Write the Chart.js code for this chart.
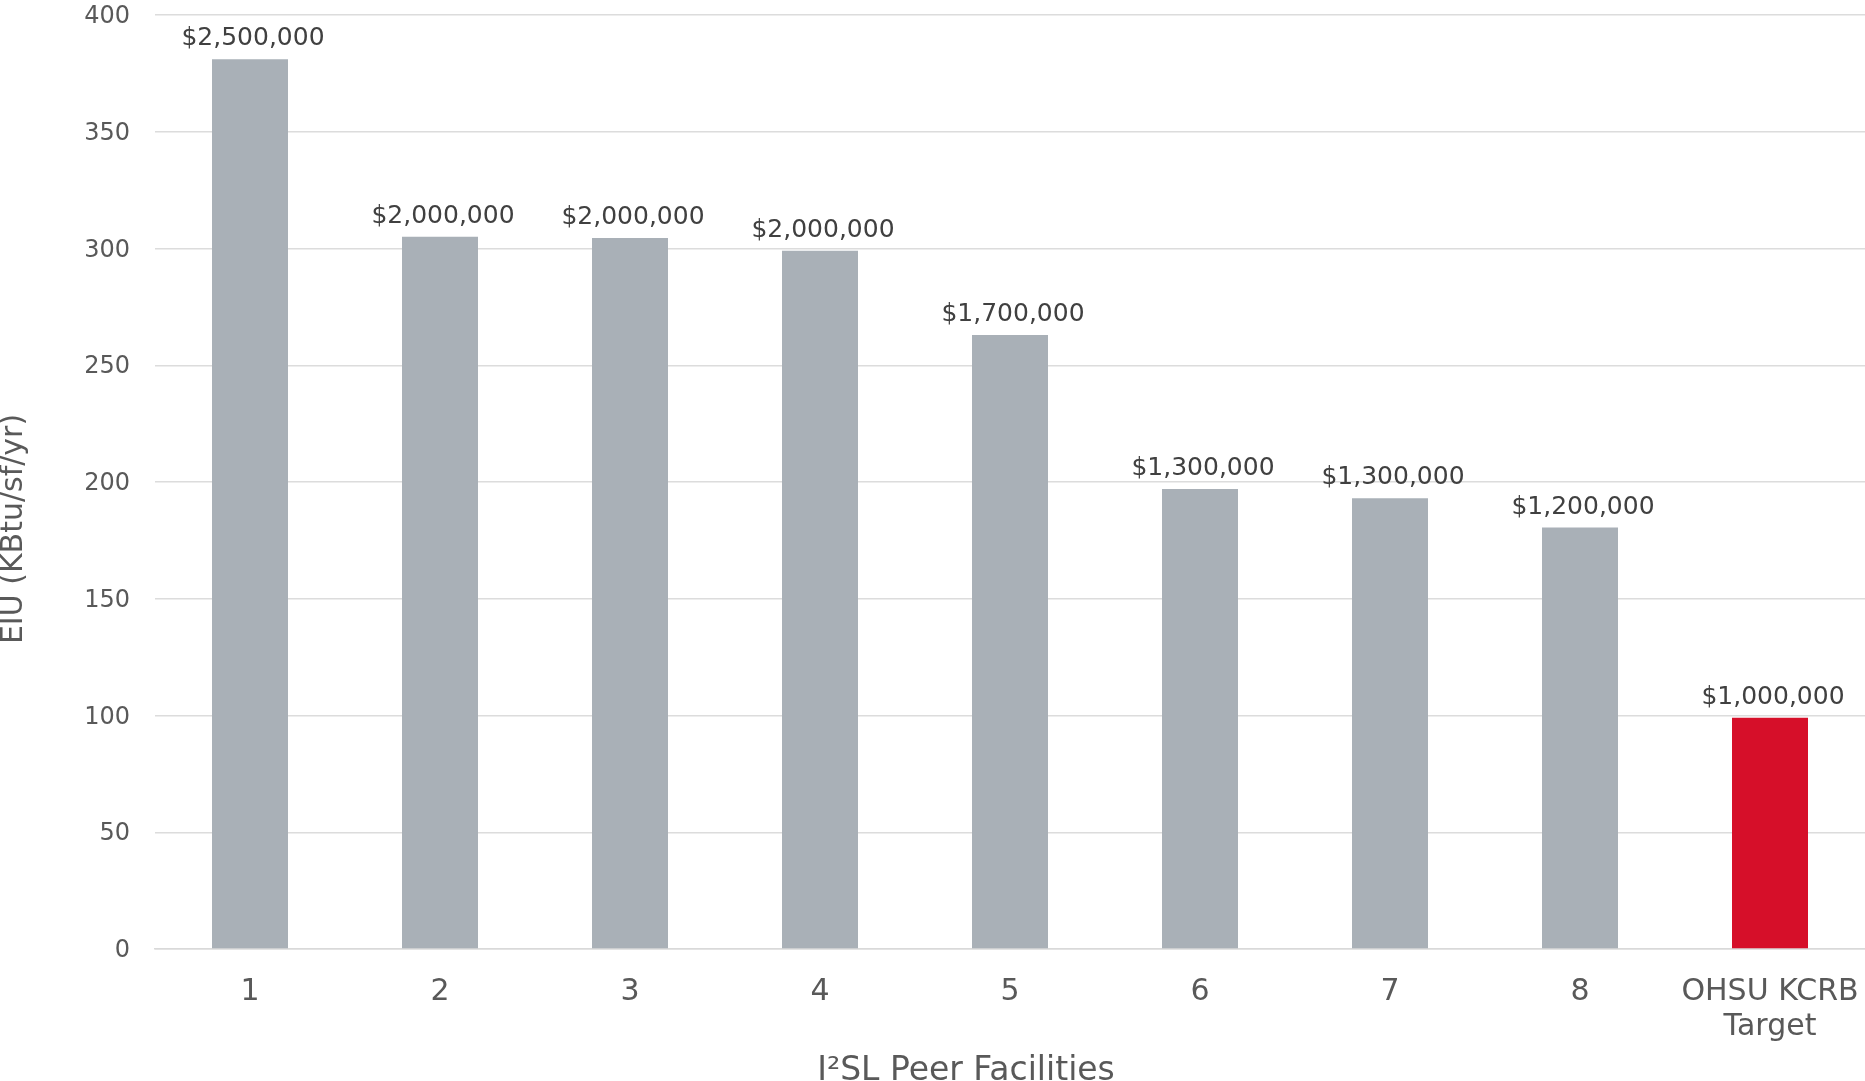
<!DOCTYPE html>
<html>
<head>
<meta charset="utf-8">
<title>EIU vs I2SL Peer Facilities</title>
<script src="https://cdn.jsdelivr.net/npm/chart.js@4.4.1/dist/chart.umd.min.js"></script>
<style>
  html, body { margin: 0; padding: 0; background: #ffffff; }
  #wrap { width: 1865px; height: 1081px; }
</style>
</head>
<body>
<div id="wrap"><canvas id="eiuChart" width="1865" height="1081"></canvas></div>
<script>
// facilities along the x axis (the last one wraps to two lines)
const facilities = ['1', '2', '3', '4', '5', '6', '7', '8', ['OHSU KCRB', 'Target']];
// energy use intensity, KBtu/sf/yr
const eiu = [381, 305, 304.5, 299, 263, 197, 193, 180.5, 99];
// annual energy cost shown above each bar
const energyCost = ['$2,500,000', '$2,000,000', '$2,000,000', '$2,000,000', '$1,700,000',
                    '$1,300,000', '$1,300,000', '$1,200,000', '$1,000,000'];
const yTicks = [0, 50, 100, 150, 200, 250, 300, 350, 400];

const GREY = '#a9b0b7';
const RED = '#d60f29';
const barColors = facilities.map((f, i) => i === facilities.length - 1 ? RED : GREY);

const FONT = 'DejaVu Sans, Verdana, sans-serif';
const CLEAR = 'rgba(0,0,0,0)';

// cost labels on top of the bars
const costLabels = {
    id: 'costLabels',
    afterDatasetsDraw(chart) {
        const ctx = chart.ctx;
        const meta = chart.getDatasetMeta(0);
        ctx.save();
        ctx.font = '25px ' + FONT;
        ctx.fillStyle = '#404040';
        ctx.textAlign = 'center';
        ctx.textBaseline = 'alphabetic';
        meta.data.forEach((bar, i) => {
            ctx.fillText(energyCost[i], bar.x + 3, bar.y - 14);
        });
        ctx.restore();
    }
};

// axis titles, placed the way the original layout has them
const axisTitles = {
    id: 'axisTitles',
    afterDraw(chart) {
        const ctx = chart.ctx;
        ctx.save();
        ctx.fillStyle = '#595959';
        ctx.textAlign = 'center';
        ctx.textBaseline = 'middle';
        ctx.font = '33px ' + FONT;
        ctx.fillText('I\u00B2SL Peer Facilities', 966, 1071);
        ctx.translate(14, 529);
        ctx.rotate(-Math.PI / 2);
        ctx.font = '30px ' + FONT;
        ctx.fillText('EIU (KBtu/sf/yr)', 0, 0);
        ctx.restore();
    }
};

new Chart(document.getElementById('eiuChart'), {
    type: 'bar',
    data: {
        labels: facilities,
        datasets: [{
            label: 'EIU',
            data: eiu,
            backgroundColor: barColors,
            borderWidth: 0,
            categoryPercentage: 1.0,
            barPercentage: 0.4
        }]
    },
    options: {
        responsive: false,
        animation: false,
        layout: { padding: { top: 15, right: 0, bottom: 0, left: 0 } },
        plugins: {
            legend: { display: false },
            tooltip: { enabled: false }
        },
        scales: {
            x: {
                // invisible tick marks give the label gap without extra side padding
                grid: { display: false, drawTicks: true, tickLength: 26, tickColor: CLEAR },
                border: { display: true, color: '#d9d9d9', width: 1.5 },
                ticks: {
                    color: '#595959',
                    font: { family: FONT, size: 30, lineHeight: 1.17 },
                    padding: 0,
                    maxRotation: 0,
                    autoSkip: false
                },
                afterFit(scale) { scale.height = 132; }
            },
            y: {
                min: 0,
                max: 400,
                afterBuildTicks(scale) { scale.ticks = yTicks.map(v => ({ value: v })); },
                grid: { color: '#dcdcdc', lineWidth: 1.5, drawTicks: true, tickLength: 25, tickColor: CLEAR },
                border: { display: false },
                ticks: {
                    color: '#595959',
                    font: { family: FONT, size: 24 },
                    padding: 0,
                    labelOffset: 2
                },
                afterFit(scale) { scale.width = 155; }
            }
        }
    },
    plugins: [costLabels, axisTitles]
});
</script>
</body>
</html>
